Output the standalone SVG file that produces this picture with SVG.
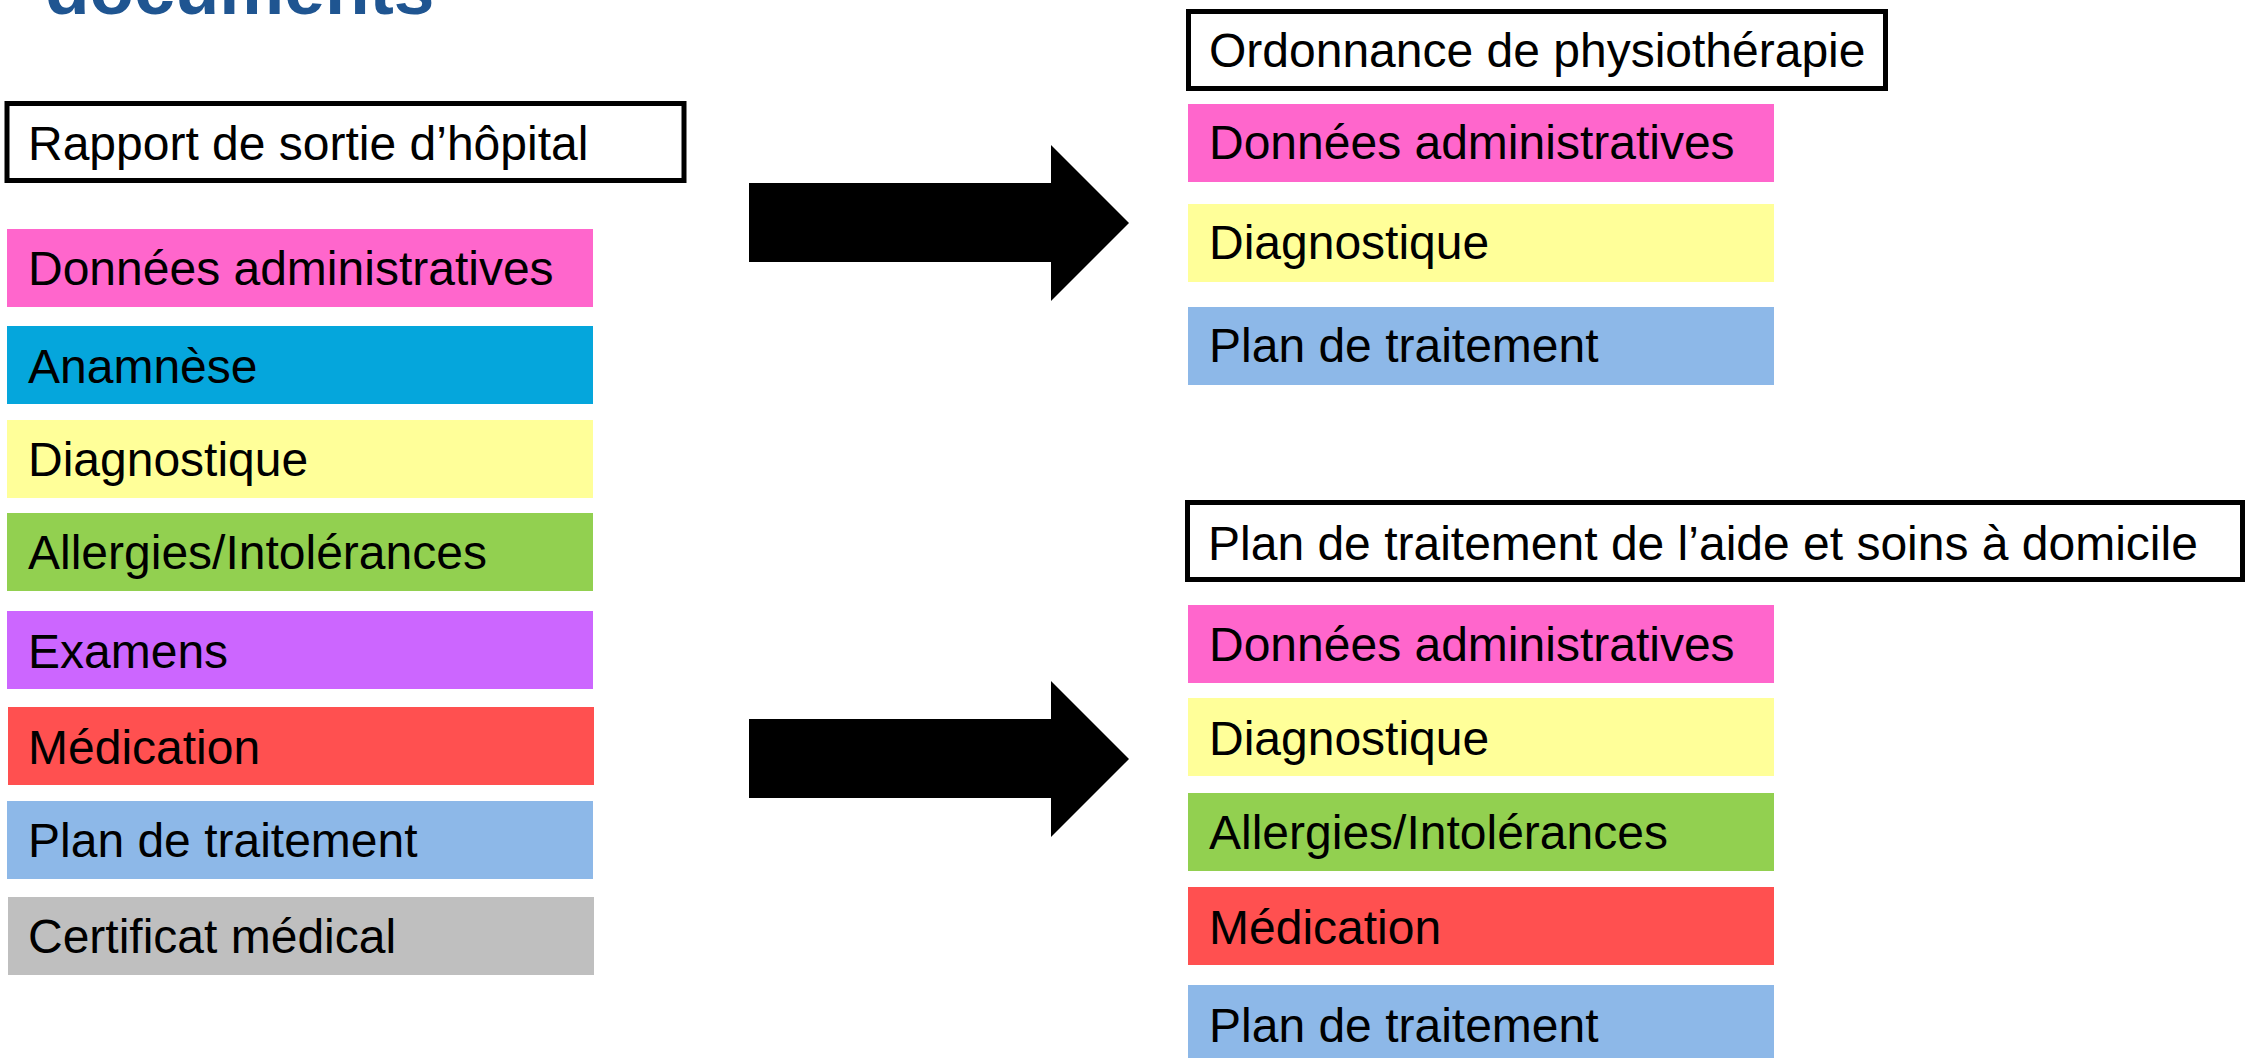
<svg xmlns="http://www.w3.org/2000/svg" width="2247" height="1058" viewBox="0 0 2247 1058">
<style>
  text { font-family: "Liberation Sans", Arial, sans-serif; font-size: 48px; fill: #000; }
  .title { font-weight: bold; font-size: 73px; fill: #1F5591; }
  .doc { fill: #fff; stroke: #000; stroke-width: 5; }
  .admin { fill: #FF66CC; }
  .anam { fill: #05A6DC; }
  .diag { fill: #FFFF99; }
  .allerg { fill: #92D050; }
  .exam { fill: #CC66FF; }
  .medic { fill: #FF5050; }
  .plan { fill: #8DB8E8; }
  .cert { fill: #BFBFBF; }
  .arrow { fill: #000; }
</style>
<rect width="2247" height="1058" fill="#fff"/>
<text class="title" x="45" y="14">documents</text>

<g id="rapport">
  <rect class="doc" x="7" y="103.5" width="677" height="77"/>
  <text x="28" y="160">Rapport de sortie d’hôpital</text>
</g>
<g id="l-admin"><rect class="admin" x="7" y="229" width="586" height="78"/><text x="28" y="285">Données administratives</text></g>
<g id="l-anam"><rect class="anam" x="7" y="326" width="586" height="78"/><text x="28" y="383">Anamnèse</text></g>
<g id="l-diag"><rect class="diag" x="7" y="420" width="586" height="78"/><text x="28" y="476">Diagnostique</text></g>
<g id="l-allerg"><rect class="allerg" x="7" y="513" width="586" height="78"/><text x="28" y="569">Allergies/Intolérances</text></g>
<g id="l-exam"><rect class="exam" x="7" y="611" width="586" height="78"/><text x="28" y="668">Examens</text></g>
<g id="l-medic"><rect class="medic" x="8" y="707" width="586" height="78"/><text x="28" y="764">Médication</text></g>
<g id="l-plan"><rect class="plan" x="7" y="801" width="586" height="78"/><text x="28" y="857">Plan de traitement</text></g>
<g id="l-cert"><rect class="cert" x="8" y="897" width="586" height="78"/><text x="28" y="953">Certificat médical</text></g>

<g id="ordonnance">
  <rect class="doc" x="1188.5" y="11.5" width="697" height="77"/>
  <text x="1209" y="67">Ordonnance de physiothérapie</text>
</g>
<g id="o-admin"><rect class="admin" x="1188" y="104" width="586" height="78"/><text x="1209" y="159">Données administratives</text></g>
<g id="o-diag"><rect class="diag" x="1188" y="204" width="586" height="78"/><text x="1209" y="259">Diagnostique</text></g>
<g id="o-plan"><rect class="plan" x="1188" y="307" width="586" height="78"/><text x="1209" y="362">Plan de traitement</text></g>

<g id="domicile">
  <rect class="doc" x="1187.5" y="502.5" width="1055" height="77"/>
  <text x="1208" y="560">Plan de traitement de l’aide et soins à domicile</text>
</g>
<g id="d-admin"><rect class="admin" x="1188" y="605" width="586" height="78"/><text x="1209" y="661">Données administratives</text></g>
<g id="d-diag"><rect class="diag" x="1188" y="698" width="586" height="78"/><text x="1209" y="755">Diagnostique</text></g>
<g id="d-allerg"><rect class="allerg" x="1188" y="793" width="586" height="78"/><text x="1209" y="849">Allergies/Intolérances</text></g>
<g id="d-medic"><rect class="medic" x="1188" y="887" width="586" height="78"/><text x="1209" y="944">Médication</text></g>
<g id="d-plan"><rect class="plan" x="1188" y="985" width="586" height="78"/><text x="1209" y="1042">Plan de traitement</text></g>

<g id="connectors">
  <polygon class="arrow" points="749,183 1051,183 1051,145 1129,223 1051,301 1051,262 749,262"/>
  <polygon class="arrow" points="749,719 1051,719 1051,681 1129,759 1051,837 1051,798 749,798"/>
</g>
</svg>
